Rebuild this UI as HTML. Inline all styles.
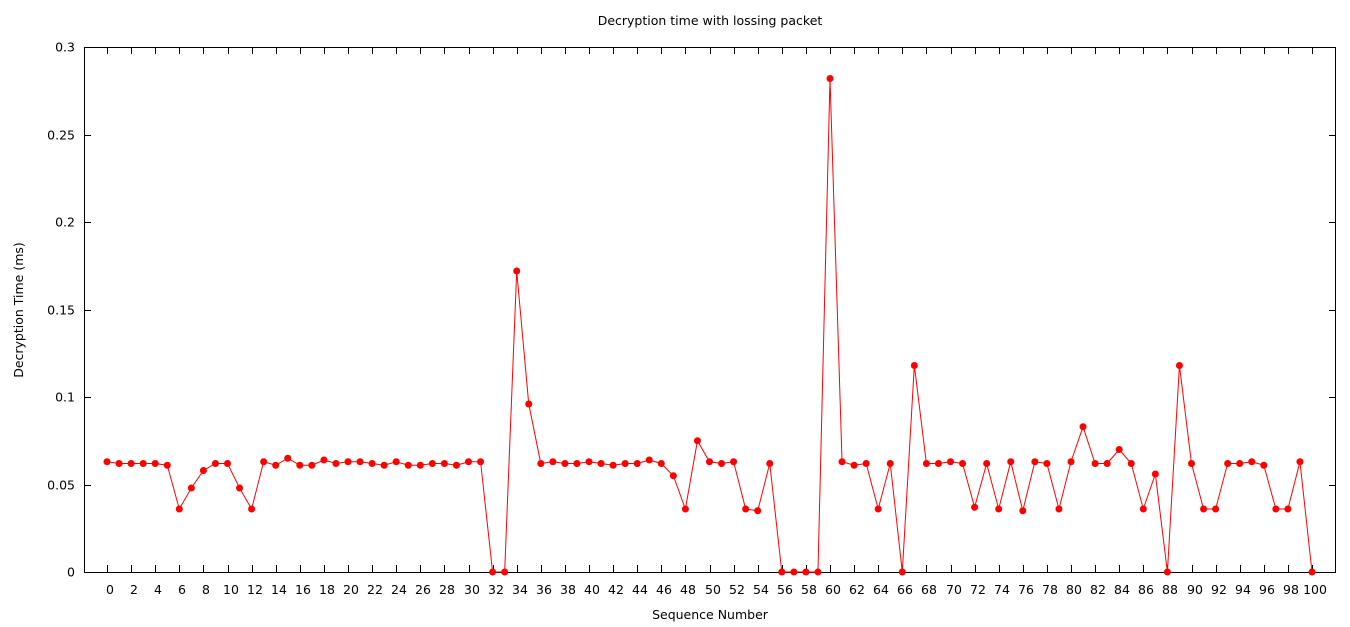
<!DOCTYPE html>
<html><head><meta charset="utf-8"><style>
body{margin:0;background:#fff;font-family:"Liberation Sans","DejaVu Sans",sans-serif;}
svg text{font-family:"DejaVu Sans","Liberation Sans",sans-serif;font-size:12.5px;fill:#000;}
</style></head><body>
<svg id="chart" width="1350" height="622">
<text x="710" y="25" text-anchor="middle">Decryption time with lossing packet</text>
<text x="710" y="619" text-anchor="middle">Sequence Number</text>
<text transform="translate(23,310) rotate(-90)" text-anchor="middle">Decryption Time (ms)</text>
<g id="axes"></g><g id="series"></g>
</svg>
<script>
const seqNumbers=[...Array(101).keys()];
const decryptTimes=[0.063,0.062,0.062,0.062,0.062,0.061,0.036,0.048,0.058,0.062,0.062,0.048,0.036,0.063,0.061,0.065,0.061,0.061,0.064,0.062,0.063,0.063,0.062,0.061,0.063,0.061,0.061,0.062,0.062,0.061,0.063,0.063,0,0,0.172,0.096,0.062,0.063,0.062,0.062,0.063,0.062,0.061,0.062,0.062,0.064,0.062,0.055,0.036,0.075,0.063,0.062,0.063,0.036,0.035,0.062,0,0,0,0,0.282,0.063,0.061,0.062,0.036,0.062,0,0.118,0.062,0.062,0.063,0.062,0.037,0.062,0.036,0.063,0.035,0.063,0.062,0.036,0.063,0.083,0.062,0.062,0.070,0.062,0.036,0.056,0,0.118,0.062,0.036,0.036,0.062,0.062,0.063,0.061,0.036,0.036,0.063,0];
const yTicks=[0,0.05,0.1,0.15,0.2,0.25,0.3];
const yTickLabels=["0","0.05","0.1","0.15","0.2","0.25","0.3"];
const xTicks=[];for(let i=0;i<=100;i+=2)xTicks.push(i);
const L=84,R=1336,T=47,B=572;
const xs=v=>107+v*(1312-107)/100;
const ys=v=>B-(v/0.3)*(B-T);
const NS="http://www.w3.org/2000/svg";
function mk(tag,attrs,parent){const e=document.createElementNS(NS,tag);for(const k in attrs)e.setAttribute(k,attrs[k]);parent.appendChild(e);return e;}
const ax=document.getElementById('axes');
const frame=mk('rect',{x:L+0.5,y:T+0.5,width:R-L-1,height:B-T,fill:'none',stroke:'#000','stroke-width':1},ax);


yTicks.forEach((v,i)=>{const y=Math.round(ys(v))+0.5;
 const t=mk('path',{d:`M${L} ${y}h7M${R} ${y}h-7`,stroke:'#000'},ax);
 
 
 const tx=mk('text',{x:L-9,y:y+4,'text-anchor':'end'},ax);tx.textContent=yTickLabels[i];
 
 });
xTicks.forEach(v=>{const x=Math.round(xs(v))+0.5;
 const t=mk('path',{d:`M${x} ${B}v-7M${x} ${T}v7`,stroke:'#000'},ax);
 
 
 const tx=mk('text',{x:x+2.5,y:B+22,'text-anchor':'middle'},ax);tx.textContent=v;
 
 });
const sg=document.getElementById('series');
const line=mk('polyline',{points:seqNumbers.map((s,i)=>xs(s)+','+ys(decryptTimes[i])).join(' '),fill:'none',stroke:'#ff0000','stroke-width':1},sg);


seqNumbers.forEach((s,i)=>{const c=mk('circle',{cx:xs(s),cy:ys(decryptTimes[i]),r:3.5,fill:'#ff0000'},sg);
 
 });
</script>
</body></html>
